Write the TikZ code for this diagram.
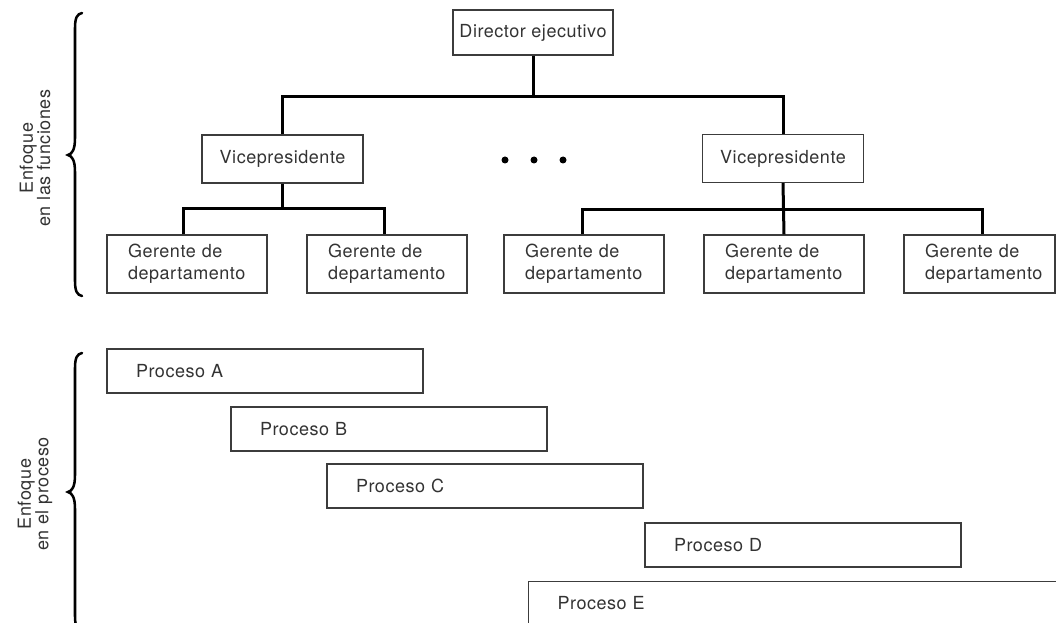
\documentclass[tikz,border=0pt]{standalone}
\usepackage{fontspec}
\setmainfont[LetterSpace=3]{TeX Gyre Heros}
\definecolor{inkgray}{HTML}{333333}
\definecolor{framegray}{HTML}{3C3C3C}
\begin{document}
\begin{tikzpicture}[x=0.75pt,y=-0.75pt,
  every node/.style={font=\fontsize{13.5pt}{16.5pt}\selectfont, text=inkgray},
  box/.style={draw=framegray, line width=0.8pt, rectangle, inner sep=0pt},
  topbox/.style={box, minimum width=120pt, minimum height=33.75pt},
  vpbox/.style={box, minimum width=120.75pt, minimum height=36pt},
  mgrbox/.style={box, minimum height=43.5pt, inner xsep=15.75pt, text width=88.5pt, align=left},
  procbox/.style={box, minimum height=33pt, inner xsep=21.75pt, text width=193.5pt, align=left},
  conn/.style={draw=black, line width=2.25pt},
  bracestroke/.style={draw=black, line width=1.9pt, line cap=round},
  sidelabel/.style={rotate=90, align=center, font=\fontsize{13.5pt}{13pt}\selectfont}
]
\useasboundingbox (0,0) rectangle (1056,623);
\clip (0,0) rectangle (1056,623);

% ---- functional hierarchy ----
\node[topbox] (dir) at (533,32.5) {Director ejecutivo};
\node[vpbox] (vp1) at (282.5,159) {Vicepresidente};
\node[vpbox] (vp2) at (783,158.5) {Vicepresidente};

\node[mgrbox] (m1) at (187,264) {Gerente de\\departamento};
\node[mgrbox] (m2) at (387,264) {Gerente de\\departamento};
\node[mgrbox] (m3) at (584,264) {Gerente de\\departamento};
\node[mgrbox] (m4) at (784,264) {Gerente de\\departamento};
\node[mgrbox, text width=81.75pt] (m5) at (979.5,264) {Gerente de\\departamento};

\coordinate (topbus) at (533,97);
\coordinate (lbus) at (282.5,209);
\coordinate (rbus) at (783,210);

\draw[conn] (dir.south) -- (topbus);
\draw[conn] (vp1.north) |- (topbus) -| (vp2.north);

\draw[conn] (vp1.south) -- (lbus);
\draw[conn] ([xshift=-3pt]m1.north) |- (lbus) -| ([xshift=-2.25pt]m2.north);

\draw[conn] (vp2.south) -- (m4.north);
\draw[conn] ([xshift=-1.5pt]m3.north) |- (rbus) -| ([xshift=2.6pt]m5.north);

% ellipsis between the vice presidents
\node[circle, fill=black, inner sep=0pt, minimum size=5.25pt] (d1) at (505,160) {};
\node[circle, fill=black, inner sep=0pt, minimum size=5.25pt] (d2) at (534,160) {};
\node[circle, fill=black, inner sep=0pt, minimum size=5.25pt] (d3) at (563,160) {};

% ---- process view ----
\node[procbox] (pa) at (265,371) {Proceso A};
\node[procbox] (pb) at (389,429) {Proceso B};
\node[procbox] (pc) at (485,486) {Proceso C};
\node[procbox] (pd) at (803,545) {Proceso D};
\node[procbox, anchor=north west, text width=450pt] (pe) at (528,581) {Proceso E};

% ---- side braces and labels ----
\draw[bracestroke] (82,13) .. controls (77,14) and (75,18) .. (75,28) -- (75,138)
  .. controls (75,150) and (72,154) .. (68,155)
  .. controls (72,156) and (75,160) .. (75,172) -- (75,281)
  .. controls (75,291) and (77,295) .. (82,296);
\draw[bracestroke] (82,353) .. controls (77,354) and (75,358) .. (75,368) -- (75,475)
  .. controls (75,487) and (72,491) .. (68,492)
  .. controls (72,493) and (75,497) .. (75,509) -- (75,616)
  .. controls (75,626) and (77,630) .. (82,631);

\node[sidelabel] (lf) at (35,158) {Enfoque\\en las funciones};
\node[sidelabel] (lp) at (35,494) {Enfoque\\en el proceso};
\end{tikzpicture}
\end{document}
